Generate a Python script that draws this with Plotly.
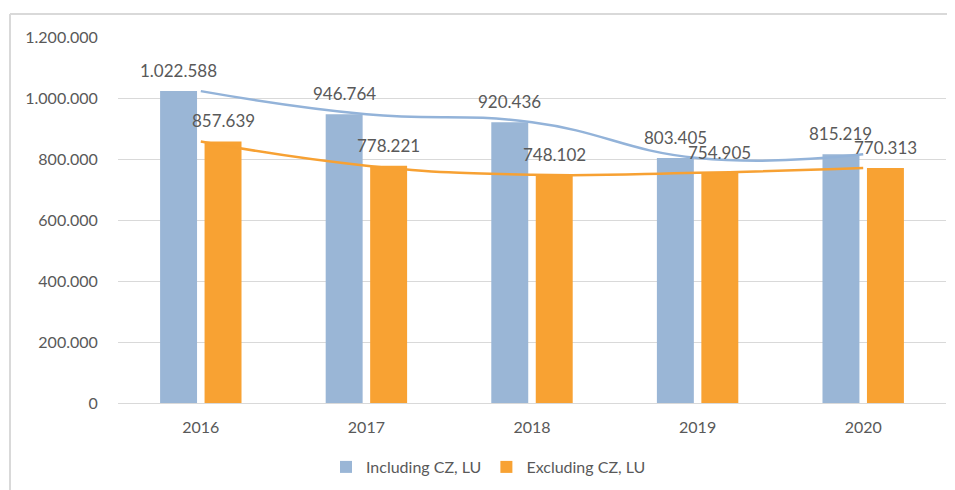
import plotly.graph_objects as go

years = ["2016", "2017", "2018", "2019", "2020"]
including = [1022588, 946764, 920436, 803405, 815219]
excluding = [857639, 778221, 748102, 754905, 770313]
series_names = ["Including CZ, LU", "Excluding CZ, LU"]
y_ticks = [0, 200000, 400000, 600000, 800000, 1000000, 1200000]

BLUE = "#9ab6d6"
ORANGE = "#f8a233"
BLUE_LINE = "#93b3d9"
ORANGE_LINE = "#f7a133"
TEXT = "#595959"
GRID = "#d9d9d9"
FONT = "Lato, Open Sans, sans-serif"

# page body adds an 8px offset; compensate in the margins
OFF = 8
W, H = 955, 490
ML, MT = 118 - OFF, 37 - OFF
PW, PH = 828, 366
MR = W - ML - PW
MB = H - MT - PH

fig = go.Figure()
fig.add_trace(go.Bar(x=years, y=including, name=series_names[0], marker_color=BLUE,
                     marker_line_width=0, offsetgroup="a"))
fig.add_trace(go.Bar(x=years, y=excluding, name=series_names[1], marker_color=ORANGE,
                     marker_line_width=0, offsetgroup="b"))
fig.add_trace(go.Scatter(x=years, y=including, mode="lines", line=dict(color=BLUE_LINE, width=2.5, shape="spline", smoothing=1.3),
                         showlegend=False, hoverinfo="skip"))
fig.add_trace(go.Scatter(x=years, y=excluding, mode="lines", line=dict(color=ORANGE_LINE, width=2.5, shape="spline", smoothing=1.3),
                         showlegend=False, hoverinfo="skip"))

slot = PW / len(years) * (1 - 0.463) / 2
annotations = []
for vals, shift in ((including, -slot / 2), (excluding, slot / 2)):
    for i, v in enumerate(vals):
        annotations.append(dict(x=i, y=v, xref="x", yref="y", text=f"{v:,}".replace(",", "."),
                                showarrow=False, xshift=shift, yshift=8, yanchor="bottom",
                                font=dict(family=FONT, size=17, color=TEXT)))

shapes = [
    dict(type="line", xref="paper", yref="paper", x0=(10 - ML - OFF) / PW, x1=(10 - ML - OFF) / PW,
         y0=1 + (MT + OFF - 14) / PH, y1=-(MB + 20) / PH, line=dict(color=GRID, width=2)),
    dict(type="line", xref="paper", yref="paper", x0=(10 - ML - OFF) / PW, x1=(W + 20 - ML) / PW,
         y0=1 + (MT + OFF - 14) / PH, y1=1 + (MT + OFF - 14) / PH, line=dict(color=GRID, width=2)),
]

fig.update_layout(
    width=W, height=H,
    margin=dict(l=ML, r=MR, t=MT, b=MB),
    paper_bgcolor="white", plot_bgcolor="white",
    separators=",.",
    barmode="group", bargap=0.463, bargroupgap=0.169,
    font=dict(family=FONT, color=TEXT, size=16),
    xaxis=dict(type="category", showgrid=False, showline=False, ticks="outside", ticklen=10,
               tickcolor="rgba(0,0,0,0)", tickfont=dict(size=16, color=TEXT), range=[-0.5, 4.5]),
    yaxis=dict(range=[0, 1200000], tickvals=y_ticks, tickformat=",", showgrid=True, gridcolor=GRID,
               gridwidth=1, zeroline=True, zerolinecolor=GRID, zerolinewidth=1, showline=False,
               ticks="outside", ticklen=16, tickcolor="rgba(0,0,0,0)", tickfont=dict(size=16, color=TEXT)),
    legend=dict(orientation="h", x=(318 - ML) / PW, xanchor="left", y=-(467 - 403) / PH, yanchor="middle",
                font=dict(size=16, color=TEXT), bgcolor="rgba(0,0,0,0)"),
    annotations=annotations,
    shapes=shapes,
    showlegend=True,
)

fig.write_html("out.html")
